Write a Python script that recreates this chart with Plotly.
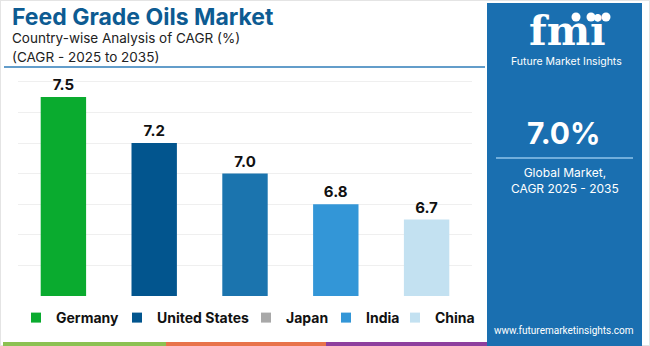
import plotly.graph_objects as go

countries = ["Germany", "United States", "Japan", "India", "China"]
cagr = [7.5, 7.2, 7.0, 6.8, 6.7]
bar_colors = ["#0aab2f", "#02558e", "#1b74ae", "#3396d7", "#c3e1f1"]
legend_colors = ["#0aab2f", "#02558e", "#a8a8a8", "#3396d7", "#c3e1f1"]
labels = [f"{v:.1f}" for v in cagr]

W, H = 650, 346
ML, MR, MT, MB = 18, 178, 70, 50
y0 = 6.2
px_per_unit = 153.0
y1 = y0 + (H - MT - MB) / px_per_unit
font = "Inter, Open Sans, sans-serif"

def px_x(x):
    return (x - ML) / (W - ML - MR)
def px_y(y):
    return (H - MB - y) / (H - MT - MB)

fig = go.Figure()
fig.add_trace(go.Bar(
    x=countries, y=cagr,
    marker=dict(color=bar_colors, line=dict(width=0)),
    width=0.5, text=labels, textposition="outside",
    textfont=dict(family=font, size=15, color="#111111", weight="bold"),
    cliponaxis=False, showlegend=False, hoverinfo="skip",
))

# legend square centres (px)
legend_sq_x = [36, 137, 266, 346, 415]
legend_keys = ["legend", "legend2", "legend3", "legend4", "legend5"]
for name, col, key in zip(countries, legend_colors, legend_keys):
    fig.add_trace(go.Scatter(
        x=[None], y=[None], mode="markers", name=name, legend=key,
        marker=dict(symbol="square", size=10, color=col, line=dict(width=0)),
    ))

shapes = [
    dict(type="rect", xref="paper", yref="paper", x0=px_x(0), x1=px_x(650), y0=px_y(346), y1=px_y(0),
         fillcolor="rgba(0,0,0,0)", line=dict(color="#e4e4e4", width=2), layer="below"),
    dict(type="rect", xref="paper", yref="paper", x0=px_x(487), x1=px_x(642),
         y0=px_y(346), y1=px_y(3), fillcolor="#1a6fb0", line=dict(width=0), layer="below"),
    dict(type="line", xref="paper", yref="paper", x0=px_x(4), x1=px_x(485), y0=px_y(67), y1=px_y(67),
         line=dict(color="#2f7db8", width=1.5)),
    dict(type="line", xref="paper", yref="paper", x0=px_x(496), x1=px_x(633), y0=px_y(158), y1=px_y(158),
         line=dict(color="#8fc3ea", width=1.5)),
    dict(type="rect", xref="paper", yref="paper", x0=px_x(3), x1=px_x(166), y0=px_y(346), y1=px_y(342),
         fillcolor="#8cc152", line=dict(width=0)),
    dict(type="rect", xref="paper", yref="paper", x0=px_x(166), x1=px_x(326), y0=px_y(346), y1=px_y(342),
         fillcolor="#e8734a", line=dict(width=0)),
    dict(type="rect", xref="paper", yref="paper", x0=px_x(326), x1=px_x(487), y0=px_y(346), y1=px_y(342),
         fillcolor="#8e3f9e", line=dict(width=0)),
]
# small icons above the logo
for cx in [576, 591, 606]:
    shapes.append(dict(type="circle", xref="paper", yref="paper",
                       x0=px_x(cx - 4.5), x1=px_x(cx + 4.5), y0=px_y(21.5), y1=px_y(12.5),
                       fillcolor="#ffffff", line=dict(width=0)))

def ann(x, y, text, size, color, bold=False, xanchor="left", family=font):
    return dict(xref="paper", yref="paper", x=px_x(x), y=px_y(y), text=f"<b>{text}</b>" if bold else text,
                showarrow=False, xanchor=xanchor, yanchor="middle", align="center" if xanchor == "center" else "left",
                font=dict(family=family, size=size, color=color))

annotations = [
    ann(10, 17, "Feed Grade Oils Market", 23, "#0d5b92", bold=True),
    ann(10, 38, "Country-wise Analysis of CAGR (%)", 13.5, "#222222"),
    ann(10, 57, "(CAGR - 2025 to 2035)", 13.5, "#222222"),
    ann(567, 31, "fmi", 41, "#ffffff", bold=True, xanchor="center", family="DejaVu Serif, serif"),
    ann(566, 62, "Future Market Insights", 10.5, "#ffffff", xanchor="center"),
    ann(564, 133, "7.0%", 30, "#ffffff", bold=True, xanchor="center"),
    ann(565, 180, "Global Market,<br>CAGR 2025 - 2035", 12, "#ffffff", xanchor="center"),
    ann(564, 330, "www.futuremarketinsights.com", 10, "#ffffff", xanchor="center", family="Roboto, sans-serif"),
]

legend_font = dict(family=font, size=14, color="#111111", weight="bold")
layout_legends = {}
for key, sx in zip(legend_keys, legend_sq_x):
    layout_legends[key] = dict(
        orientation="h", x=px_x(sx - 20), y=px_y(318), xanchor="left", yanchor="middle",
        font=legend_font, itemwidth=30, bgcolor="rgba(0,0,0,0)", borderwidth=0,
    )

fig.update_layout(
    width=W, height=H, margin=dict(l=ML, r=MR, t=MT, b=MB, pad=0, autoexpand=False),
    paper_bgcolor="#ffffff", plot_bgcolor="#ffffff",
    xaxis=dict(showticklabels=False, showgrid=False, zeroline=False, showline=False, fixedrange=True),
    yaxis=dict(range=[y0, y1], tick0=6.2, dtick=0.2, showticklabels=False, gridcolor="#efefef",
               gridwidth=1, zeroline=False, showline=False, fixedrange=True),
    showlegend=True,
    shapes=shapes, annotations=annotations,
    **layout_legends,
)

fig.write_html("out.html")
